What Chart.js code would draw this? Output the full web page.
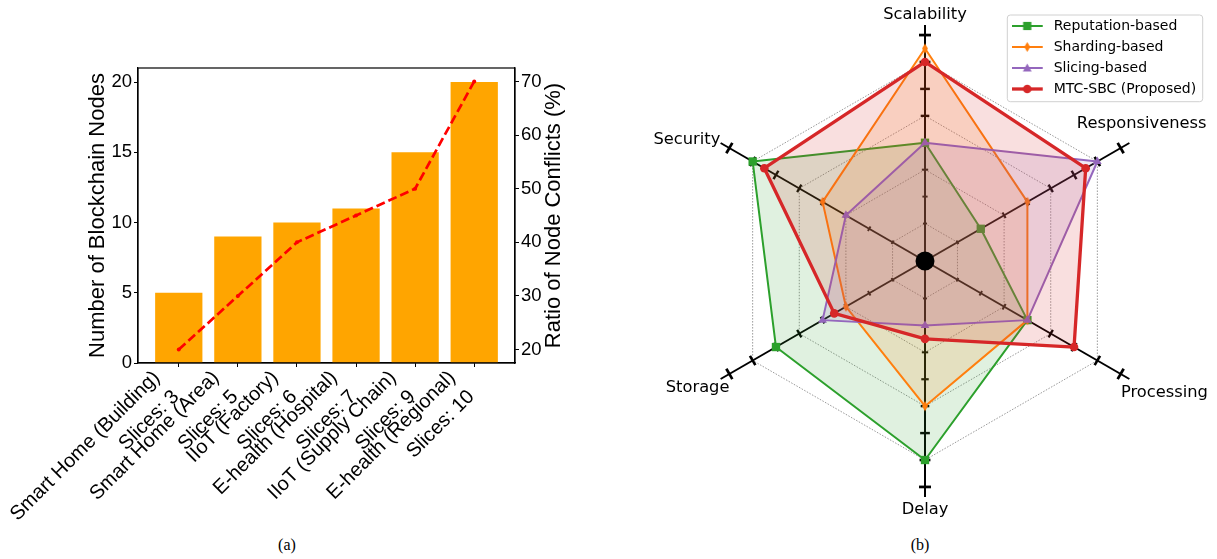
<!DOCTYPE html>
<html><head><meta charset="utf-8">
<script src="https://cdn.jsdelivr.net/npm/chart.js@4.4.1/dist/chart.umd.min.js"></script>
<style>
html,body{margin:0;padding:0;background:#fff;width:1217px;height:559px;overflow:hidden;}
#c1{position:absolute;left:0;top:0;}
#c2{position:absolute;left:617px;top:0;}
.cap{position:absolute;top:536px;width:40px;text-align:center;font-family:'Liberation Serif','Times New Roman',serif;font-size:16px;color:#000;}
</style></head><body>
<canvas id="c1" width="610" height="530"></canvas>
<canvas id="c2" width="600" height="530"></canvas>
<div class="cap" style="left:267px">(a)</div>
<div class="cap" style="left:900px">(b)</div>
<script>
// ---------- data (a) ----------
const categories = ['Smart Home (Building)','Smart Home (Area)','IIoT (Factory)','E-health (Hospital)','IIoT (Supply Chain)','E-health (Regional)'];
const slices = [3,5,6,7,9,10];
const blockchainNodes = [5,9,10,11,15,20];
const conflictRatio = [20,30,40,45,50,70];
const nodeTicks = [0,5,10,15,20];
const ratioTicks = [20,30,40,50,60,70];
// ---------- data (b) ----------
const metrics = ['Scalability','Responsiveness','Processing','Delay','Storage','Security'];
const seriesNames = ['Reputation-based','Sharding-based','Slicing-based','MTC-SBC (Proposed)'];
const reputationBased = [4,2,4,7,6,7];
const shardingBased = [7.5,4,4,5,3,4];
const slicingBased = [4,7,4,2,4,3];
const mtcSbc = [7,6.5,6,2.5,3.5,6.5];
const radarTicks = [1,2,3,4,5,6,7,8];
const radarGrid = [1,3,5,7];

const SANS = "'Liberation Sans', Arial, Helvetica, sans-serif";
const DJ = "'DejaVu Sans', sans-serif";

// ---------- chart (a) ----------
const xLabels = categories.map((c,i)=>[c, 'Slices: ' + slices[i]]);
const frame1 = {
  id:'frame1',
  afterDraw(chart){
    const {ctx, chartArea:a} = chart;
    ctx.save();
    ctx.strokeStyle = '#000'; ctx.lineWidth = 1.2;
    ctx.strokeRect(a.left, a.top, a.right-a.left, a.bottom-a.top);
    const s = chart.scales.y2;
    ctx.translate(s.right - 17.3, (a.top + a.bottom)/2);
    ctx.rotate(-Math.PI/2);
    ctx.font = '22px ' + SANS;
    ctx.textAlign = 'center'; ctx.textBaseline = 'middle'; ctx.fillStyle = '#000';
    ctx.fillText('Ratio of Node Conflicts (%)', 0, 0);
    ctx.restore();
  }
};
new Chart(document.getElementById('c1'), {
  type:'bar',
  data:{datasets:[
    {type:'line', data:categories.map((c,i)=>({x:i,y:conflictRatio[i]})), yAxisID:'y2',
     borderColor:'#ff0000', borderWidth:2.7, borderDash:[9,4], pointRadius:2, pointBackgroundColor:'#ff0000',
     pointBorderWidth:0, fill:false, tension:0, order:0},
    {type:'bar', data:categories.map((c,i)=>({x:i,y:blockchainNodes[i]})), yAxisID:'y',
     backgroundColor:'#ffa500', borderWidth:0, barPercentage:0.8, categoryPercentage:1, order:1}
  ]},
  options:{
    responsive:false, animation:false, devicePixelRatio:1,
    layout:{padding:{top:68,left:80,right:39,bottom:0}},
    plugins:{legend:{display:false}, tooltip:{enabled:false}},
    scales:{
      x:{type:'linear', min:-0.69, max:5.69, offset:false,
        afterBuildTicks:s=>{s.ticks = categories.map((c,i)=>({value:i}));},
        afterFit:s=>{s.height = 167; s.paddingLeft = 0; s.paddingRight = 0;},
        grid:{display:true, drawOnChartArea:false, offset:false, tickLength:4, tickColor:'#000', tickWidth:1},
        border:{color:'#000', width:1.2},
        ticks:{autoSkip:false, maxRotation:45, minRotation:45, padding:-2, labelOffset:-22, color:'#000',
          font:{family:SANS, size:20, lineHeight:1.35}, callback:(v)=>xLabels[v]}
      },
      y:{position:'left', min:0, max:21,
        afterBuildTicks:s=>{s.ticks = nodeTicks.map(v=>({value:v}));},
        afterFit:s=>{s.width = 58;},
        title:{display:true, text:'Number of Blockchain Nodes', color:'#000', font:{family:SANS, size:22}, padding:{top:5,bottom:0}},
        grid:{display:true, drawOnChartArea:false, tickLength:4, tickColor:'#000', tickWidth:1},
        border:{color:'#000', width:1.2},
        ticks:{color:'#000', padding:2, font:{family:SANS, size:18.5}}
      },
      y2:{position:'right', min:17.5, max:72.5,
        afterBuildTicks:s=>{s.ticks = ratioTicks.map(v=>({value:v}));},
        afterFit:s=>{s.width = 56;},
        grid:{display:true, drawOnChartArea:false, tickLength:4, tickColor:'#000', tickWidth:1},
        border:{color:'#000', width:1.2},
        ticks:{color:'#000', padding:2, font:{family:SANS, size:18.5}}
      }
    }
  },
  plugins:[frame1]
});

// ---------- chart (b) ----------
const colors = ['#2ca02c','#ff7f0e','#9467bd','#d62728'];
const fills = ['rgba(44,160,44,0.15)','rgba(255,127,14,0.15)','rgba(148,103,189,0.15)','rgba(214,39,40,0.15)'];
const lineWidths = [2,2,2,3.3];

function drawMarker(ctx, kind, x, y, color){
  ctx.fillStyle = color;
  ctx.beginPath();
  if (kind === 'square'){ ctx.rect(x-4.1, y-4.1, 8.2, 8.2); }
  else if (kind === 'thin'){ ctx.moveTo(x, y-5); ctx.lineTo(x+3, y); ctx.lineTo(x, y+5); ctx.lineTo(x-3, y); ctx.closePath(); }
  else if (kind === 'tri'){ ctx.moveTo(x, y-4.6); ctx.lineTo(x+4.4, y+3.6); ctx.lineTo(x-4.4, y+3.6); ctx.closePath(); }
  else { ctx.arc(x, y, 4.3, 0, Math.PI*2); }
  ctx.fill();
}
const markerKinds = ['square','thin','tri','circle'];
function makeIcon(i){
  const c = document.createElement('canvas'); c.width = 35; c.height = 16;
  const g = c.getContext('2d');
  g.strokeStyle = colors[i]; g.lineWidth = lineWidths[i];
  g.beginPath(); g.moveTo(0, 8); g.lineTo(31, 8); g.stroke();
  drawMarker(g, markerKinds[i], 15.5, 8, colors[i]);
  return c;
}
const legendIcons = [0,1,2,3].map(makeIcon);
const thinDiamond = (()=>{ const c = document.createElement('canvas'); c.width = 8; c.height = 12;
  drawMarker(c.getContext('2d'), 'thin', 4, 6, colors[1]); return c; })();

const labelOffsets = [[0,-6],[12.3,-15],[35,17.6],[0,17.3],[-23,13.2],[-33.7,1]];
const radarDeco = {
  id:'radarDeco',
  afterLayout(chart){
    const L = chart.legend; const w = L.width, h = L.height;
    L.left = 387.7; L.top = 12; L.right = L.left + w; L.bottom = L.top + h;
  },
  beforeDatasetsDraw(chart){
    const s = chart.scales.r, ctx = chart.ctx;
    ctx.save(); ctx.strokeStyle = '#000'; ctx.lineCap = 'butt';
    chart.data.labels.forEach((l,i)=>{
      const a = s.getIndexAngle(i) - Math.PI/2;
      const nx = -Math.sin(a), ny = Math.cos(a);
      radarTicks.forEach(v=>{
        const p = s.getPointPositionForValue(i, v);
        const r = s.getDistanceFromCenterForValue(v);
        const h = (2.5 + 0.042*r)/2;
        ctx.lineWidth = 1.6 + 0.005*r;
        ctx.beginPath(); ctx.moveTo(p.x - nx*h, p.y - ny*h); ctx.lineTo(p.x + nx*h, p.y + ny*h); ctx.stroke();
      });
    });
    ctx.restore();
  },
  afterDatasetsDraw(chart){
    const s = chart.scales.r, ctx = chart.ctx;
    ctx.save(); ctx.fillStyle = '#000';
    ctx.beginPath(); ctx.arc(s.xCenter, s.yCenter, 9.5, 0, Math.PI*2); ctx.fill();
    ctx.restore();
  },
  afterDraw(chart){
    const s = chart.scales.r, ctx = chart.ctx;
    ctx.save();
    ctx.font = '16.3px ' + DJ; ctx.fillStyle = '#000'; ctx.textAlign = 'center'; ctx.textBaseline = 'alphabetic';
    chart.data.labels.forEach((l,i)=>{
      const p = s.getPointPosition(i, s.drawingArea);
      ctx.fillText(l, p.x + labelOffsets[i][0], p.y + labelOffsets[i][1]);
    });
    ctx.strokeStyle = '#d0d0d0'; ctx.lineWidth = 1;
    ctx.beginPath(); ctx.roundRect(390.3, 15, 195.4, 86.7, 3); ctx.stroke();
    ctx.restore();
  }
};

const seriesData = [reputationBased, shardingBased, slicingBased, mtcSbc];
const pointStyles = ['rect', thinDiamond, 'triangle', 'circle'];
const pointRadii = [5.9, 5, 5, 4.3];
new Chart(document.getElementById('c2'), {
  type:'radar',
  data:{labels:metrics, datasets:seriesData.map((d,i)=>({
    label:seriesNames[i], data:d, borderColor:colors[i], backgroundColor:fills[i], borderWidth:lineWidths[i],
    borderJoinStyle:'round', pointStyle:pointStyles[i], pointRadius:pointRadii[i], pointHoverRadius:pointRadii[i],
    pointBackgroundColor:colors[i], pointBorderColor:colors[i], pointBorderWidth:0, fill:'start', order:3-i
  }))},
  options:{
    responsive:false, animation:false, devicePixelRatio:1,
    layout:{padding:{left:71.3,right:55.3,top:25,bottom:31.6}},
    plugins:{
      tooltip:{enabled:false},
      legend:{position:'chartArea', align:'start',
        labels:{usePointStyle:true, pointStyleWidth:35, padding:7, color:'#000', font:{family:DJ, size:14},
          generateLabels:(chart)=>chart.data.datasets.map((ds,i)=>({text:ds.label, fillStyle:ds.borderColor,
            strokeStyle:ds.borderColor, lineWidth:0, hidden:false, datasetIndex:i, pointStyle:legendIcons[i], fontColor:'#000'}))}
      }
    },
    scales:{r:{min:-0.3926, max:8.374,
      afterBuildTicks:s=>{s.ticks = radarGrid.map(v=>({value:v}));},
      ticks:{display:false}, pointLabels:{display:false},
      grid:{color:'#8c8c8c', lineWidth:0.9},
      border:{dash:[1.5,1.5]},
      angleLines:{display:true, color:'#000', lineWidth:2}
    }}
  },
  plugins:[radarDeco]
});
</script></body></html>
